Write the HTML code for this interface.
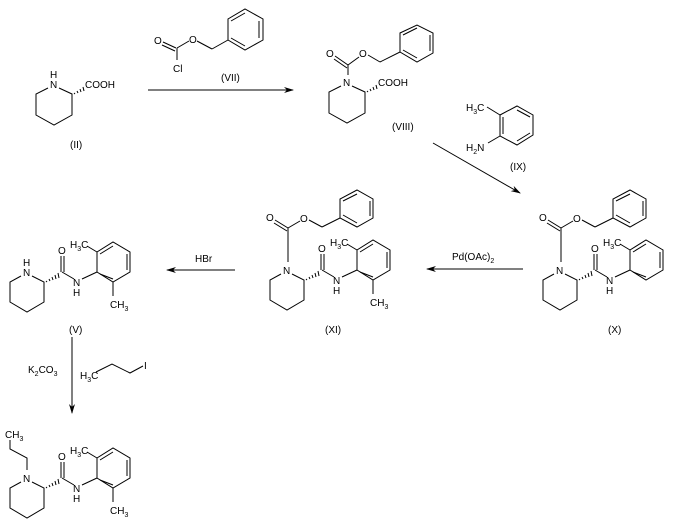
<!DOCTYPE html>
<html><head><meta charset="utf-8"><style>
html,body{margin:0;padding:0;background:#fff;}
svg{display:block;}
text{font-family:"Liberation Sans",sans-serif;font-size:10px;fill:#000;}
.s{font-size:7px;}
line,polyline,polygon{stroke:#000;stroke-width:1;fill:none;}
</style></head><body>
<svg width="675" height="527" viewBox="0 0 675 527" xmlns="http://www.w3.org/2000/svg">
<defs>
<marker id="ah" markerWidth="10" markerHeight="8" refX="9" refY="4" orient="auto" markerUnits="userSpaceOnUse">
<polygon points="0,1 10,4 0,7 3,4" style="fill:#000;stroke:none"/></marker>
</defs>

<!-- (II) -->
<g transform="translate(54,84)">
<text x="-4" y="-6">H</text><text x="-4" y="4">N</text>
<polyline points="5,4 18,10 18,31 0,41 -18,31 -18,10 -6,4"/>
<line x1="20" y1="9" x2="21" y2="10"/><line x1="23" y1="7" x2="24" y2="9"/><line x1="26" y1="5" x2="27" y2="8"/><line x1="29" y1="3" x2="30" y2="7"/>
<text x="31" y="4">COOH</text>
</g>
<text x="70" y="148">(II)</text>

<!-- Cbz-Cl (VII) -->
<text x="154" y="44">O</text>
<line x1="163" y1="42" x2="176" y2="48"/><line x1="162" y1="45" x2="175" y2="51"/>
<line x1="177" y1="48" x2="177" y2="60"/>
<text x="173" y="72">Cl</text>
<line x1="177" y1="48" x2="189" y2="41"/>
<text x="189" y="43">O</text>
<line x1="197" y1="41" x2="212" y2="49"/><line x1="212" y1="49" x2="228" y2="40"/>
<polygon points="228,40 228,19 245,9 263,19 263,40 245,50"/>
<line x1="231" y1="21" x2="245" y2="13"/><line x1="259" y1="21" x2="259" y2="38"/><line x1="231" y1="38" x2="245" y2="46"/>
<text x="221" y="81">(VII)</text>
<line x1="148" y1="90" x2="293" y2="90" marker-end="url(#ah)"/>

<!-- (VIII) -->
<g transform="translate(347,82)">
<text x="-4" y="4">N</text>
<polyline points="5,4 18,10 18,31 0,41 -18,31 -18,10 -6,4"/>
<line x1="20" y1="9" x2="21" y2="10"/><line x1="23" y1="7" x2="24" y2="9"/><line x1="26" y1="5" x2="27" y2="8"/><line x1="29" y1="3" x2="30" y2="7"/>
<text x="31" y="4">COOH</text>
<line x1="1" y1="-7" x2="1" y2="-17"/>
<text x="-21" y="-25">O</text>
<line x1="-12" y1="-26" x2="1" y2="-17"/><line x1="-13" y1="-23" x2="0" y2="-14"/>
<line x1="1" y1="-17" x2="12" y2="-25"/>
<text x="12" y="-25">O</text>
<line x1="21" y1="-27" x2="33" y2="-20"/><line x1="33" y1="-20" x2="53" y2="-30"/>
<polygon points="53,-30 53,-49 70,-57 86,-49 86,-29 70,-20"/>
<line x1="56" y1="-47" x2="70" y2="-54"/><line x1="83" y1="-47" x2="83" y2="-31"/><line x1="56" y1="-32" x2="70" y2="-24"/>
</g>
<text x="392" y="130">(VIII)</text>

<!-- (IX) -->
<polygon points="500,115 517,106 533,115 533,135 517,145 500,136"/>
<line x1="503" y1="117" x2="503" y2="134"/><line x1="517" y1="110" x2="530" y2="117"/><line x1="517" y1="141" x2="530" y2="133"/>
<text x="466" y="111">H<tspan class="s" dy="3">3</tspan><tspan dy="-3">C</tspan></text>
<line x1="487" y1="107" x2="500" y2="115"/>
<text x="466" y="151">H<tspan class="s" dy="3">2</tspan><tspan dy="-3">N</tspan></text>
<line x1="488" y1="143" x2="500" y2="136"/>
<text x="510" y="170">(IX)</text>
<line x1="433" y1="143" x2="520" y2="193" marker-end="url(#ah)"/>

<!-- (X) -->
<g transform="translate(560,270)">
<text x="-4" y="4">N</text>
<polyline points="5,4 17,10 17,30 0,40 -17,30 -17,10 -6,4"/>
<line x1="19" y1="9" x2="20" y2="10"/><line x1="22" y1="7" x2="23" y2="9"/><line x1="25" y1="5" x2="26" y2="8"/><line x1="28" y1="3" x2="29" y2="7"/><line x1="31" y1="1" x2="32" y2="6"/>
<line x1="34" y1="0" x2="34" y2="-16"/><line x1="37" y1="0" x2="37" y2="-16"/>
<text x="31" y="-18">O</text>
<line x1="35" y1="0" x2="47" y2="7"/>
<text x="46" y="14">N</text><text x="46" y="24">H</text>
<line x1="55" y1="7" x2="70" y2="0"/>
<polygon points="70,0 70,-20 86,-30 103,-20 103,0 86,10"/>
<line x1="73" y1="-18" x2="86" y2="-26"/><line x1="100" y1="-18" x2="100" y2="-2"/><line x1="73" y1="2" x2="86" y2="7"/>
<text x="43" y="-24">H<tspan class="s" dy="3">3</tspan><tspan dy="-3">C</tspan></text>
<line x1="60" y1="-26" x2="70" y2="-20"/>
<line x1="1" y1="-8" x2="1" y2="-42"/>
<text x="-21" y="-49">O</text>
<line x1="-12" y1="-50" x2="1" y2="-42"/><line x1="-13" y1="-47" x2="0" y2="-39"/>
<line x1="1" y1="-42" x2="13" y2="-49"/>
<text x="13" y="-48">O</text>
<line x1="22" y1="-50" x2="35" y2="-43"/><line x1="35" y1="-43" x2="53" y2="-52"/>
<polygon points="53,-52 53,-71 70,-80 86,-71 86,-52 70,-43"/>
<line x1="56" y1="-69" x2="70" y2="-76"/><line x1="83" y1="-69" x2="83" y2="-54"/><line x1="56" y1="-55" x2="70" y2="-47"/>
</g>
<text x="608" y="333">(X)</text>

<line x1="523" y1="269" x2="427" y2="269" marker-end="url(#ah)"/>
<text x="452" y="260">Pd(OAc)<tspan class="s" dy="3">2</tspan></text>

<!-- (XI) -->
<g transform="translate(287,270)">
<text x="-4" y="4">N</text>
<polyline points="5,4 17,10 17,30 0,40 -17,30 -17,10 -6,4"/>
<line x1="19" y1="9" x2="20" y2="10"/><line x1="22" y1="7" x2="23" y2="9"/><line x1="25" y1="5" x2="26" y2="8"/><line x1="28" y1="3" x2="29" y2="7"/><line x1="31" y1="1" x2="32" y2="6"/>
<line x1="34" y1="0" x2="34" y2="-16"/><line x1="37" y1="0" x2="37" y2="-16"/>
<text x="31" y="-18">O</text>
<line x1="35" y1="0" x2="47" y2="7"/>
<text x="46" y="14">N</text><text x="46" y="24">H</text>
<line x1="55" y1="7" x2="70" y2="0"/>
<polygon points="70,0 70,-20 86,-30 103,-20 103,0 86,10"/>
<line x1="73" y1="-18" x2="86" y2="-26"/><line x1="100" y1="-18" x2="100" y2="-2"/><line x1="73" y1="2" x2="86" y2="7"/>
<text x="43" y="-24">H<tspan class="s" dy="3">3</tspan><tspan dy="-3">C</tspan></text>
<line x1="60" y1="-26" x2="70" y2="-20"/>
<line x1="86" y1="10" x2="86" y2="24"/>
<text x="83" y="36">CH<tspan class="s" dy="3">3</tspan></text>
<line x1="1" y1="-8" x2="1" y2="-42"/>
<text x="-21" y="-49">O</text>
<line x1="-12" y1="-50" x2="1" y2="-42"/><line x1="-13" y1="-47" x2="0" y2="-39"/>
<line x1="1" y1="-42" x2="13" y2="-49"/>
<text x="13" y="-48">O</text>
<line x1="22" y1="-50" x2="35" y2="-43"/><line x1="35" y1="-43" x2="53" y2="-52"/>
<polygon points="53,-52 53,-71 70,-80 86,-71 86,-52 70,-43"/>
<line x1="56" y1="-69" x2="70" y2="-76"/><line x1="83" y1="-69" x2="83" y2="-54"/><line x1="56" y1="-55" x2="70" y2="-47"/>
</g>
<text x="325" y="333">(XI)</text>

<line x1="235" y1="270" x2="167" y2="270" marker-end="url(#ah)"/>
<text x="195" y="262">HBr</text>

<!-- (V) -->
<g transform="translate(27,272)">
<text x="-4" y="-6">H</text><text x="-4" y="4">N</text>
<polyline points="5,4 17,10 17,30 0,40 -17,30 -17,10 -6,4"/>
<line x1="19" y1="9" x2="20" y2="10"/><line x1="22" y1="7" x2="23" y2="9"/><line x1="25" y1="5" x2="26" y2="8"/><line x1="28" y1="3" x2="29" y2="7"/><line x1="31" y1="1" x2="32" y2="6"/>
<line x1="34" y1="0" x2="34" y2="-16"/><line x1="37" y1="0" x2="37" y2="-16"/>
<text x="31" y="-18">O</text>
<line x1="35" y1="0" x2="47" y2="7"/>
<text x="46" y="14">N</text><text x="46" y="24">H</text>
<line x1="55" y1="7" x2="70" y2="0"/>
<polygon points="70,0 70,-20 86,-30 103,-20 103,0 86,10"/>
<line x1="73" y1="-18" x2="86" y2="-26"/><line x1="100" y1="-18" x2="100" y2="-2"/><line x1="73" y1="2" x2="86" y2="7"/>
<text x="43" y="-24">H<tspan class="s" dy="3">3</tspan><tspan dy="-3">C</tspan></text>
<line x1="60" y1="-26" x2="70" y2="-20"/>
<line x1="86" y1="10" x2="86" y2="24"/>
<text x="83" y="36">CH<tspan class="s" dy="3">3</tspan></text>
</g>
<text x="69" y="333">(V)</text>

<line x1="72" y1="337" x2="72" y2="413" marker-end="url(#ah)"/>
<text x="28" y="373">K<tspan class="s" dy="3">2</tspan><tspan dy="-3">CO</tspan><tspan class="s" dy="3">3</tspan></text>
<text x="80" y="379">H<tspan class="s" dy="3">3</tspan><tspan dy="-3">C</tspan></text>
<polyline points="96,372 112,364 130,373 143,366"/>
<text x="144" y="369">I</text>

<!-- final -->
<g transform="translate(27,478)">
<text x="-4" y="4">N</text>
<polyline points="5,4 17,10 17,30 0,40 -17,30 -17,10 -6,4"/>
<line x1="19" y1="9" x2="20" y2="10"/><line x1="22" y1="7" x2="23" y2="9"/><line x1="25" y1="5" x2="26" y2="8"/><line x1="28" y1="3" x2="29" y2="7"/><line x1="31" y1="1" x2="32" y2="6"/>
<line x1="34" y1="0" x2="34" y2="-16"/><line x1="37" y1="0" x2="37" y2="-16"/>
<text x="31" y="-18">O</text>
<line x1="35" y1="0" x2="47" y2="7"/>
<text x="46" y="14">N</text><text x="46" y="24">H</text>
<line x1="55" y1="7" x2="70" y2="0"/>
<polygon points="70,0 70,-20 86,-30 103,-20 103,0 86,10"/>
<line x1="73" y1="-18" x2="86" y2="-26"/><line x1="100" y1="-18" x2="100" y2="-2"/><line x1="73" y1="2" x2="86" y2="7"/>
<text x="43" y="-24">H<tspan class="s" dy="3">3</tspan><tspan dy="-3">C</tspan></text>
<line x1="60" y1="-26" x2="70" y2="-20"/>
<line x1="86" y1="10" x2="86" y2="24"/>
<text x="83" y="36">CH<tspan class="s" dy="3">3</tspan></text>
<polyline points="0,-8 0,-20 -17,-29 -17,-38"/>
<text x="-22" y="-40">CH<tspan class="s" dy="3">3</tspan></text>
</g>
</svg>
</body></html>
